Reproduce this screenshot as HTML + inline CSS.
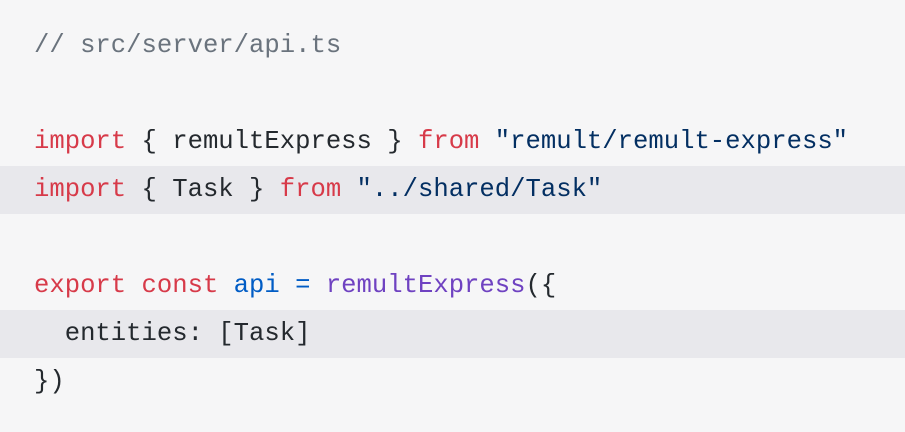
<!DOCTYPE html>
<html><head><style>
html,body{margin:0;padding:0;width:905px;height:432px;background:#f6f6f7;overflow:hidden}
.c{position:absolute;top:22px;left:0;width:905px;font-family:"Liberation Mono","DejaVu Sans Mono",monospace;font-size:25.6px;color:#24292e}
.l{height:48px;line-height:48px;padding-left:34px;white-space:pre}
.h{background:#e8e8ec}
.k{color:#d73a49}.s{color:#032f62}.cm{color:#6a737d}.v{color:#005cc5}.f{color:#6f42c1}
</style></head><body>
<div class="c">
<div class="l"><span class="cm">// src/server/api.ts</span></div>
<div class="l"> </div>
<div class="l"><span class="k">import</span> { remultExpress } <span class="k">from</span> <span class="s">"remult/remult-express"</span></div>
<div class="l h"><span class="k">import</span> { Task } <span class="k">from</span> <span class="s">"../shared/Task"</span></div>
<div class="l"> </div>
<div class="l"><span class="k">export</span> <span class="k">const</span> <span class="v">api</span> <span class="v">=</span> <span class="f">remultExpress</span>({</div>
<div class="l h">  entities: [Task]</div>
<div class="l">})</div>
</div>
</body></html>
